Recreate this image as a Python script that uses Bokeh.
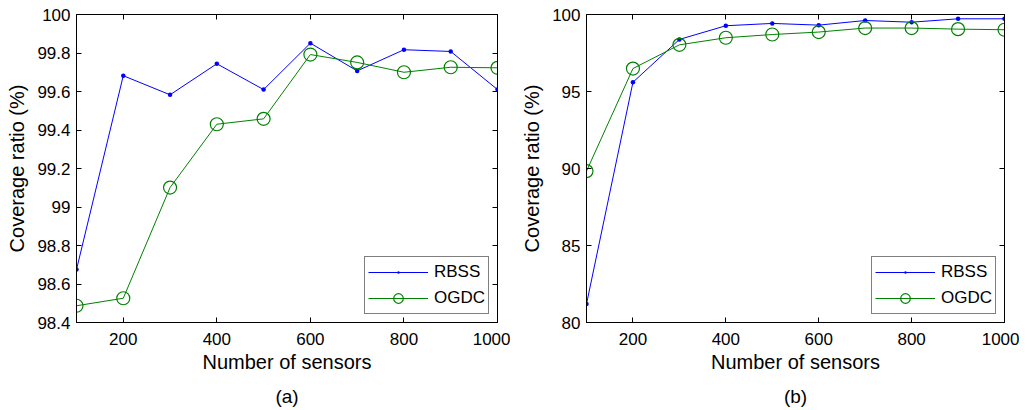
from bokeh.plotting import figure
from bokeh.layouts import row
from bokeh.models import LinearAxis, FixedTicker, Range1d, Title
from bokeh.embed import file_html
from bokeh.resources import INLINE

# ---- data ----
sensors = [100, 200, 300, 400, 500, 600, 700, 800, 900, 1000]

rbss_a = [98.675, 99.682, 99.583, 99.744, 99.610, 99.851, 99.707, 99.817, 99.808, 99.610]
ogdc_a = [98.487, 98.526, 99.101, 99.430, 99.458, 99.792, 99.751, 99.700, 99.726, 99.723]

rbss_b = [81.2, 95.6, 98.38, 99.27, 99.42, 99.31, 99.61, 99.50, 99.72, 99.72]
ogdc_b = [89.83, 96.49, 98.03, 98.49, 98.70, 98.86, 99.12, 99.12, 99.05, 99.01]

x_ticks = [200, 400, 600, 800, 1000]
x_tick_labels = ["200", "400", "600", "800", "1000"]

y_ticks_a = [98.4, 98.6, 98.8, 99.0, 99.2, 99.4, 99.6, 99.8, 100.0]
y_tick_labels_a = ["98.4", "98.6", "98.8", "99", "99.2", "99.4", "99.6", "99.8", "100"]

y_ticks_b = [80, 85, 90, 95, 100]
y_tick_labels_b = ["80", "85", "90", "95", "100"]

series_names = ["RBSS", "OGDC"]
captions = ["(a)", "(b)"]

FONT = "Liberation Sans"
BLUE = "#0000ff"
GREEN = "#008000"


def style_axis(ax, show_labels=True):
    ax.major_tick_in = 5
    ax.major_tick_out = 0
    ax.minor_tick_line_color = None
    ax.axis_line_color = "black"
    ax.major_tick_line_color = "black"
    ax.major_label_text_font = FONT
    ax.axis_label_text_font = FONT
    ax.axis_label_text_font_style = "normal"
    if show_labels:
        ax.major_label_text_font_size = "17px"
        ax.major_label_text_color = "black"
        ax.axis_label_text_font_size = "20px"
        ax.axis_label_text_color = "black"
    else:
        ax.major_label_text_font_size = "0px"
        ax.major_label_text_color = None
        ax.major_label_standoff = 0


def make_panel(rbss, ogdc, y_lo, y_hi, yt, ytl, caption, left_b, frame_w, right_b):
    p = figure(
        output_backend="svg", toolbar_location=None,
        frame_width=frame_w, frame_height=308,
        min_border_left=left_b, min_border_right=right_b,
        min_border_top=14, min_border_bottom=86,
        x_range=Range1d(100, 1000), y_range=Range1d(y_lo, y_hi),
        background_fill_color="white", border_fill_color="white",
    )
    p.outline_line_color = "black"
    p.outline_line_width = 1
    p.xgrid.visible = False
    p.ygrid.visible = False

    p.xaxis.ticker = FixedTicker(ticks=x_ticks)
    p.xaxis.major_label_overrides = dict(zip(x_ticks, x_tick_labels))
    p.yaxis.ticker = FixedTicker(ticks=yt)
    p.yaxis.major_label_overrides = dict(zip(yt, ytl))
    for ax in p.xaxis + p.yaxis:
        style_axis(ax)
    p.xaxis.axis_label = "Number of sensors"
    p.yaxis.axis_label = "Coverage ratio (%)"
    p.xaxis.major_label_standoff = 10
    p.xaxis.axis_label_standoff = 3
    p.yaxis.major_label_standoff = 6
    p.yaxis.axis_label_standoff = 6

    top = LinearAxis(ticker=FixedTicker(ticks=x_ticks))
    style_axis(top, show_labels=False)
    p.add_layout(top, "above")
    right = LinearAxis(ticker=FixedTicker(ticks=yt))
    style_axis(right, show_labels=False)
    p.add_layout(right, "right")

    p.line(sensors, rbss, line_color=BLUE, line_width=1, legend_label=series_names[0])
    p.scatter(sensors, rbss, marker="dot", size=18, fill_color=BLUE, line_color=BLUE,
              legend_label=series_names[0])
    p.line(sensors, ogdc, line_color=GREEN, line_width=1, legend_label=series_names[1])
    p.scatter(sensors, ogdc, marker="circle", size=13, fill_color=None, line_color=GREEN,
              line_width=1.2, legend_label=series_names[1])

    lg = p.legend[0]
    lg.location = "bottom_right"
    lg.margin = 8
    lg.padding = 3
    lg.spacing = 2
    lg.glyph_width = 60
    lg.glyph_height = 24
    lg.label_height = 20
    lg.label_standoff = 6
    lg.label_text_font = FONT
    lg.label_text_font_size = "17px"
    lg.label_text_color = "black"
    lg.border_line_color = "black"
    lg.border_line_width = 1.5
    lg.background_fill_color = "white"
    lg.background_fill_alpha = 1

    t = Title(text=caption, align="center", text_font=FONT, text_font_size="19px",
              text_font_style="normal", text_color="black", standoff=16)
    p.add_layout(t, "below")
    return p


pa = make_panel(rbss_a, ogdc_a, 98.4, 100.0, y_ticks_a, y_tick_labels_a, captions[0], 76, 421, 13)
pb = make_panel(rbss_b, ogdc_b, 80, 100, y_ticks_b, y_tick_labels_b, captions[1], 76, 418, 15)

layout = row(pa, pb, spacing=0)
open("out.html", "w").write(file_html(layout, INLINE))
